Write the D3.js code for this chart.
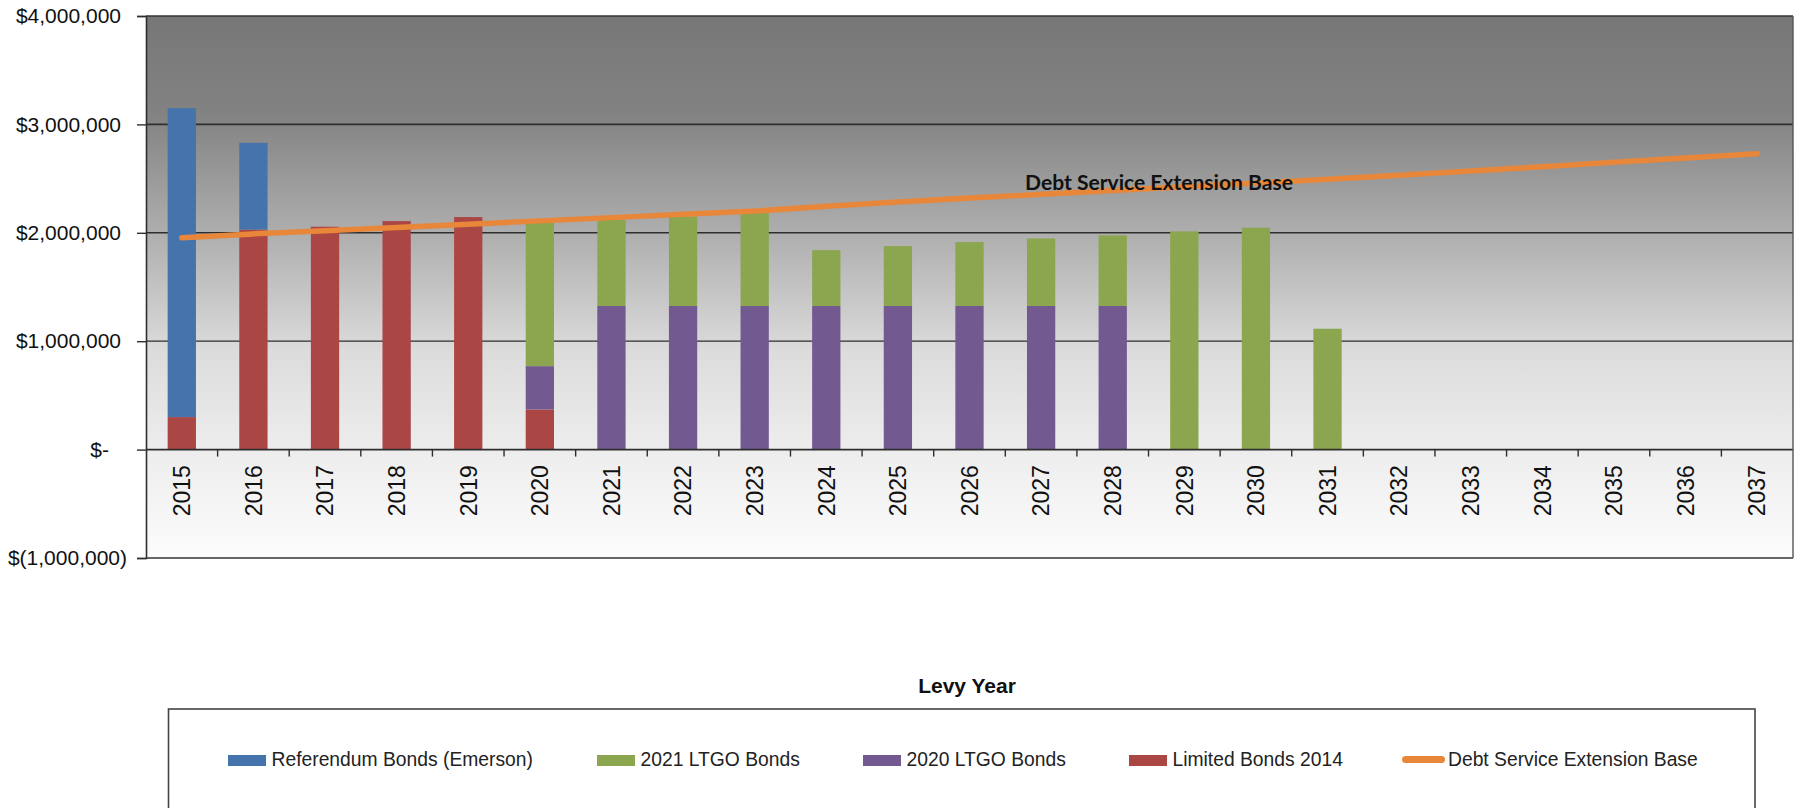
<!DOCTYPE html>
<html>
<head>
<meta charset="utf-8">
<script src="https://cdn.jsdelivr.net/npm/d3@7"></script>
<style>
  html, body { margin: 0; padding: 0; background: #ffffff; }
  svg { display: block; }
</style>
</head>
<body>
<svg id="chart" width="1802" height="808"></svg>
<script>
// ---------------- DATA ----------------
const years = ["2015","2016","2017","2018","2019","2020","2021","2022","2023","2024","2025","2026",
               "2027","2028","2029","2030","2031","2032","2033","2034","2035","2036","2037"];
const limitedBonds2014 = [300000, 2030000, 2056000, 2108000, 2145000, 370000, 0, 0, 0, 0, 0, 0,
                          0, 0, 0, 0, 0, 0, 0, 0, 0, 0, 0];
const ltgo2020 = [0, 0, 0, 0, 0, 400000, 1325000, 1325000, 1325000, 1325000, 1325000, 1325000,
                  1325000, 1325000, 0, 0, 0, 0, 0, 0, 0, 0, 0];
const ltgo2021 = [0, 0, 0, 0, 0, 1330000, 795000, 825000, 860000, 515000, 552000, 589000,
                  623000, 651000, 2013000, 2047000, 1115000, 0, 0, 0, 0, 0, 0];
const referendumEmerson = [2850000, 800000, 0, 0, 0, 0, 0, 0, 0, 0, 0, 0,
                           0, 0, 0, 0, 0, 0, 0, 0, 0, 0, 0];
const extensionBase = [1955000, 1990000, 2020000, 2050000, 2080000, 2110000, 2140000, 2170000, 2200000,
                       2245000, 2285000, 2320000, 2355000, 2390000, 2425000, 2460000, 2495000,
                       2530000, 2570000, 2610000, 2650000, 2690000, 2730000];
const yTicks = [-1000000, 0, 1000000, 2000000, 3000000, 4000000];
const seriesNames = ["Referendum Bonds (Emerson)", "2021 LTGO Bonds", "2020 LTGO Bonds", "Limited Bonds 2014", "Debt Service Extension Base"];
const xTitle = "Levy Year";
const lineLabel = "Debt Service Extension Base";

// ---------------- STYLE ----------------
const colors = {
  referendum: "#4573AC",
  ltgo2021: "#8BA64E",
  ltgo2020: "#72598F",
  limited: "#AA4643",
  base: "#E8873A"
};

const rows = years.map((y, i) => ({
  year: y,
  limited: limitedBonds2014[i],
  ltgo2020: ltgo2020[i],
  ltgo2021: ltgo2021[i],
  referendum: referendumEmerson[i],
  base: extensionBase[i]
}));

const svg = d3.select("#chart");
const L = 146, R = 1793, T = 16, B = 558;

const x = d3.scaleBand().domain(years).range([L, R]).paddingInner(0.605).paddingOuter(0.3025);
const y = d3.scaleLinear().domain([-1000000, 4000000]).range([B, T]);

// background gradient
const defs = svg.append("defs");
const grad = defs.append("linearGradient").attr("id", "bg").attr("x1", 0).attr("y1", 0).attr("x2", 0).attr("y2", 1);
[[0, "#777777"], [0.18, "#828282"], [0.42, "#b2b2b2"], [0.62, "#dcdcdc"], [0.8, "#ededed"], [1, "#fcfcfc"]]
  .forEach(([o, c]) => grad.append("stop").attr("offset", o).attr("stop-color", c));

svg.append("rect").attr("x", L).attr("y", T).attr("width", R - L).attr("height", B - T).attr("fill", "url(#bg)");

// gridlines
svg.append("g").selectAll("line").data([1000000, 2000000, 3000000]).join("line")
  .attr("x1", L).attr("x2", R)
  .attr("y1", d => y(d)).attr("y2", d => y(d))
  .attr("stroke", "#2e2e2e").attr("stroke-width", d => d === 1000000 ? 1.2 : 1.6);

// stacked bars
const keys = ["limited", "ltgo2020", "ltgo2021", "referendum"];
const stack = d3.stack().keys(keys)(rows);
svg.append("g").selectAll("g").data(stack).join("g")
  .attr("fill", d => colors[d.key])
  .selectAll("rect").data(d => d.filter(s => s[1] - s[0] > 0)).join("rect")
  .attr("x", d => x(d.data.year))
  .attr("width", x.bandwidth())
  .attr("y", d => y(d[1]))
  .attr("height", d => y(d[0]) - y(d[1]));

// axes
const yAxis = d3.axisLeft(y).tickValues(yTicks).tickSize(9).tickFormat(d => {
  if (d === 0) return "$-";
  if (d < 0) return "$(" + d3.format(",")(-d) + ")";
  return "$" + d3.format(",")(d);
});
const gy = svg.append("g").attr("transform", `translate(${L},0)`).call(yAxis);
gy.select(".domain").attr("stroke", "#2e2e2e").attr("stroke-width", 1.6);
gy.selectAll(".tick line").attr("stroke", "#2e2e2e").attr("stroke-width", 1.4);
gy.selectAll(".tick text")
  .attr("font-family", "'Liberation Sans', Arial, sans-serif")
  .attr("font-size", 21).attr("fill", "#111")
  .attr("x", d => d === 0 ? -37 : (d < 0 ? -19 : -25));

// x axis at zero
const xAxis = d3.axisBottom(x).tickSize(0).tickFormat(d => d);
const gx = svg.append("g").attr("transform", `translate(0,${y(0)})`).call(xAxis);
gx.select(".domain").remove();
gx.selectAll(".tick text")
  .attr("font-family", "'Liberation Sans', Arial, sans-serif")
  .attr("font-size", 23).attr("fill", "#111")
  .attr("text-anchor", "end")
  .attr("transform", "rotate(-90)")
  .attr("x", -15.5).attr("y", 0).attr("dy", "0.36em");
svg.append("line").attr("x1", L).attr("x2", R).attr("y1", y(0)).attr("y2", y(0))
  .attr("stroke", "#2e2e2e").attr("stroke-width", 1.6);
// category boundary tick marks
svg.append("g").selectAll("line").data(years.slice(1)).join("line")
  .attr("x1", d => x(d) - x.step() * x.paddingInner() / 2)
  .attr("x2", d => x(d) - x.step() * x.paddingInner() / 2)
  .attr("y1", y(0)).attr("y2", y(0) + 7)
  .attr("stroke", "#2e2e2e").attr("stroke-width", 1.4);

// plot border lines
svg.append("line").attr("x1", L).attr("x2", R).attr("y1", T).attr("y2", T).attr("stroke", "#333").attr("stroke-width", 1.4);
svg.append("line").attr("x1", L).attr("x2", R).attr("y1", B).attr("y2", B).attr("stroke", "#333").attr("stroke-width", 1.6);
svg.append("line").attr("x1", R).attr("x2", R).attr("y1", T).attr("y2", B).attr("stroke", "#555").attr("stroke-width", 1.4);

// extension base line
const line = d3.line().x(d => x(d.year) + x.bandwidth() / 2).y(d => y(d.base));
svg.append("path").datum(rows).attr("d", line)
  .attr("fill", "none").attr("stroke", colors.base).attr("stroke-width", 5.5)
  .attr("stroke-linecap", "round").attr("stroke-linejoin", "round");

// line label
svg.append("text").attr("x", 1025).attr("y", 190)
  .attr("font-family", "Lato, 'Open Sans', sans-serif").attr("font-weight", "bold")
  .attr("font-size", 21.5).attr("fill", "#111")
  .attr("textLength", 268).attr("lengthAdjust", "spacingAndGlyphs")
  .text(lineLabel);

// x title
svg.append("text").attr("x", 967).attr("y", 693).attr("text-anchor", "middle")
  .attr("font-family", "'Liberation Sans', Arial, sans-serif").attr("font-weight", "bold")
  .attr("font-size", 21).attr("fill", "#111").text(xTitle);

// legend box
svg.append("rect").attr("x", 168.5).attr("y", 709).attr("width", 1586.5).attr("height", 110)
  .attr("fill", "#fff").attr("stroke", "#444").attr("stroke-width", 1.6);

const legendItems = [
  { name: seriesNames[0], color: colors.referendum, x: 228, type: "rect" },
  { name: seriesNames[1], color: colors.ltgo2021, x: 597, type: "rect" },
  { name: seriesNames[2], color: colors.ltgo2020, x: 863, type: "rect" },
  { name: seriesNames[3], color: colors.limited, x: 1129, type: "rect" },
  { name: seriesNames[4], color: colors.base, x: 1402, type: "line" }
];
const lg = svg.append("g").selectAll("g").data(legendItems).join("g")
  .attr("transform", d => `translate(${d.x},0)`);
lg.filter(d => d.type === "rect").append("rect")
  .attr("x", 0).attr("y", 755).attr("width", 38).attr("height", 11).attr("fill", d => d.color);
lg.filter(d => d.type === "line").append("line")
  .attr("x1", 3.5).attr("x2", 39.5).attr("y1", 759.5).attr("y2", 759.5)
  .attr("stroke", d => d.color).attr("stroke-width", 7).attr("stroke-linecap", "round");
lg.append("text")
  .attr("x", d => d.type === "line" ? 46 : 43.5).attr("y", 766)
  .attr("font-family", "'Liberation Sans', Arial, sans-serif")
  .attr("font-size", 19.3).attr("fill", "#222")
  .text(d => d.name);
</script>
</body>
</html>
